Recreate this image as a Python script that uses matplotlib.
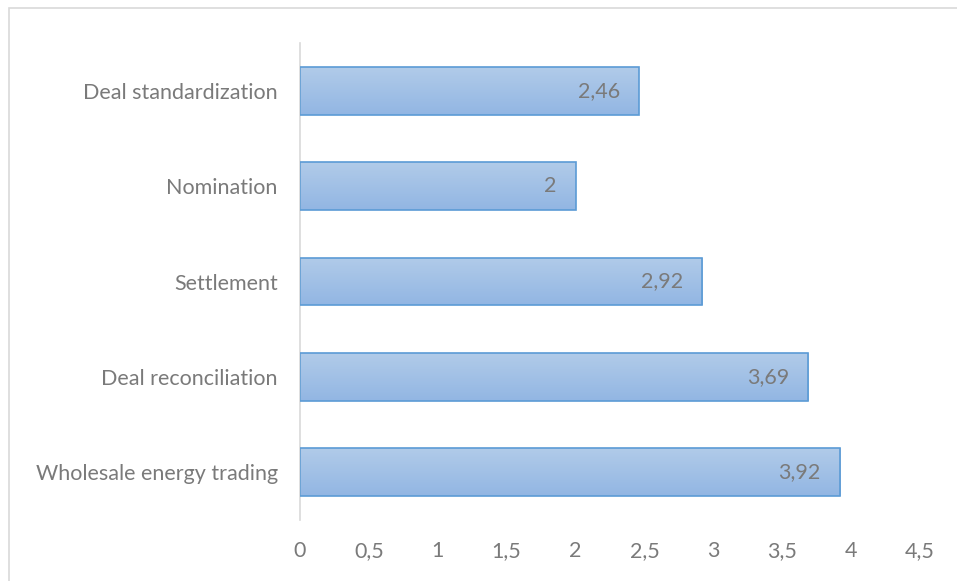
import numpy as np
import matplotlib.pyplot as plt
from matplotlib.patches import Rectangle

categories = ['Wholesale energy trading', 'Deal reconciliation', 'Settlement',
              'Nomination', 'Deal standardization']
values = [3.92, 3.69, 2.92, 2, 2.46]
value_labels = ['3,92', '3,69', '2,92', '2', '2,46']
tick_vals = [0, 0.5, 1, 1.5, 2, 2.5, 3, 3.5, 4, 4.5]
tick_labels = ['0', '0,5', '1', '1,5', '2', '2,5', '3', '3,5', '4', '4,5']

plt.rcParams['font.family'] = ['Lato', 'DejaVu Sans']
txt_color = '#7a7a7a'
fs = 15.5

W, H = 957, 581
fig = plt.figure(figsize=(W / 100, H / 100), dpi=100)
# outer chart border
fig.patches.append(Rectangle((9 / W, -0.1), 1.2, 1 - 8 / H + 0.1,
                             transform=fig.transFigure, fill=False,
                             edgecolor='#d9d9d9', linewidth=1.2))

ax = fig.add_axes([300 / W, 1 - 520 / H, 620 / W, 477 / H])
ax.set_xlim(0, 4.5)
ax.set_ylim(-0.5, 4.5)

y = np.arange(len(categories))
bars = ax.barh(y, values, height=0.5, color='none', edgecolor='#5b9bd5',
               linewidth=1.2, zorder=3)

# vertical gradient, lighter at the top
grad = np.linspace(0, 1, 100).reshape(-1, 1)
cmap = plt.matplotlib.colors.LinearSegmentedColormap.from_list(
    'g', ['#b1cbe9', '#92b6e3'])
for b in bars:
    x0, y0, w, h = b.get_x(), b.get_y(), b.get_width(), b.get_height()
    im = ax.imshow(grad, extent=[x0, x0 + w, y0, y0 + h], origin='upper',
                   aspect='auto', cmap=cmap, zorder=2)
    im.set_clip_path(b)

for yi, v, lab in zip(y, values, value_labels):
    ax.text(v - 0.14, yi, lab, ha='right', va='center', fontsize=fs,
            color=txt_color, zorder=4)

ax.set_yticks(y)
ax.set_yticklabels(categories, fontsize=fs, color=txt_color)
ax.set_xticks(tick_vals)
ax.set_xticklabels(tick_labels, fontsize=fs, color=txt_color)
ax.tick_params(length=0)
ax.tick_params(axis='x', pad=15)
ax.tick_params(axis='y', pad=16)
for s in ['top', 'right', 'bottom']:
    ax.spines[s].set_visible(False)
ax.spines['left'].set_color('#d9d9d9')
ax.spines['left'].set_linewidth(1.2)

fig.savefig('out.png', dpi=100)
